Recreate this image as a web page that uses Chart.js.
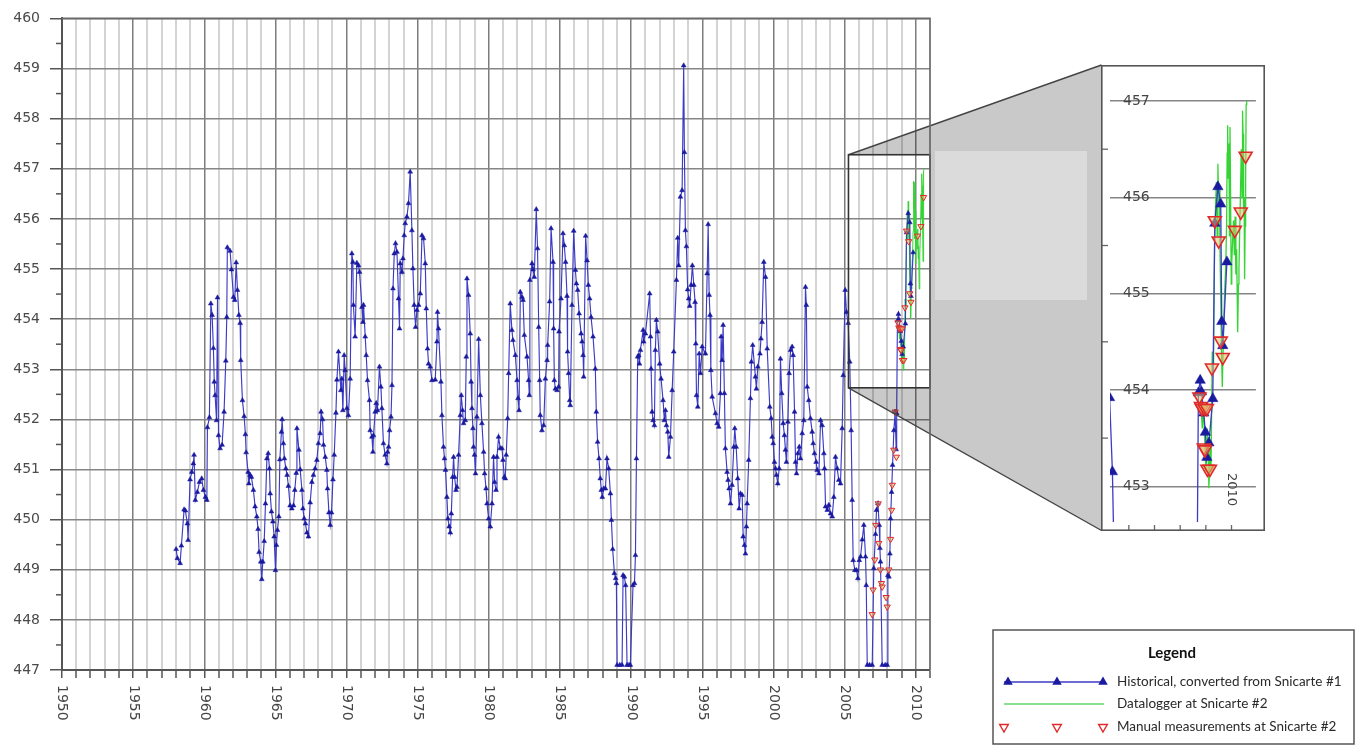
<!DOCTYPE html>
<html>
<head>
<meta charset="utf-8">
<script src="https://cdn.jsdelivr.net/npm/chart.js@4/dist/chart.umd.min.js"></script>
<style>
  html, body { margin: 0; padding: 0; background: #fff; }
  #wrap { position: relative; width: 1359px; height: 747px; overflow: hidden; }
  #main { position: absolute; left: 0; top: 0; }
  #inset { position: absolute; left: 1101px; top: 65px; }
</style>
</head>
<body>
<div id="wrap">
  <canvas id="main" width="1359" height="747"></canvas>
  <canvas id="inset" width="164" height="466"></canvas>
</div>
<script>
// water level readings, [decimal year, level]
const historical = [
[1958.02,449.41],[1958.11,449.23],[1958.30,449.13],[1958.39,449.48],[1958.58,450.20],[1958.67,450.18],[1958.81,449.92],[1958.86,449.59],
[1959.00,450.80],[1959.12,450.95],[1959.23,451.12],[1959.28,451.29],[1959.37,450.39],[1959.51,450.55],[1959.66,450.75],[1959.82,450.82],[1959.94,450.59],
[1960.08,450.45],[1960.18,450.39],[1960.22,451.84],[1960.36,452.04],[1960.46,454.31],[1960.55,454.08],[1960.64,453.42],[1960.70,452.75],[1960.76,452.48],[1960.86,451.98],[1960.93,454.43],[1961.00,451.68],
[1961.11,451.42],[1961.25,451.49],[1961.39,452.15],[1961.51,453.17],[1961.58,454.04],[1961.62,455.43],[1961.81,455.36],[1961.91,454.99],
[1962.05,454.44],[1962.14,454.38],[1962.24,455.13],[1962.33,454.58],[1962.43,454.08],[1962.52,453.92],[1962.56,453.18],[1962.68,452.38],[1962.80,452.06],[1962.89,451.70],[1962.94,451.34],
[1963.08,450.95],[1963.13,450.72],[1963.22,450.89],[1963.31,450.85],[1963.45,450.59],[1963.57,450.26],[1963.69,450.06],[1963.78,449.81],[1963.85,449.35],[1963.97,449.16],
[1964.04,448.81],[1964.11,449.16],[1964.21,449.57],[1964.30,450.32],[1964.40,451.22],[1964.49,451.32],[1964.58,451.02],[1964.63,450.52],[1964.72,450.16],[1964.82,449.96],[1964.91,449.66],
[1965.00,448.99],[1965.07,449.49],[1965.14,449.79],[1965.24,450.06],[1965.31,451.20],[1965.42,451.75],[1965.47,452.00],[1965.56,451.52],[1965.63,451.22],[1965.73,451.02],[1965.82,450.89],[1965.91,450.67],
[1966.03,450.28],[1966.15,450.22],[1966.27,450.28],[1966.36,450.59],[1966.46,450.93],[1966.51,451.82],[1966.65,451.39],[1966.74,451.00],[1966.86,450.59],[1966.93,450.22],
[1967.02,450.02],[1967.11,449.92],[1967.21,449.74],[1967.32,449.66],[1967.44,450.34],[1967.56,450.75],[1967.67,450.89],[1967.79,451.02],[1967.91,451.19],
[1968.02,451.52],[1968.14,451.72],[1968.21,452.15],[1968.31,452.00],[1968.38,451.49],[1968.50,451.25],[1968.61,450.99],[1968.66,450.62],[1968.76,450.14],[1968.85,449.89],[1968.94,450.14],
[1969.04,450.80],[1969.13,451.29],[1969.25,452.13],[1969.32,452.79],[1969.43,453.35],[1969.60,452.58],[1969.67,452.81],[1969.74,452.18],[1969.83,453.28],[1969.90,452.98],
[1970.02,452.22],[1970.13,452.08],[1970.25,452.81],[1970.37,455.31],[1970.44,455.14],[1970.48,454.28],[1970.60,453.65],[1970.72,455.12],[1970.84,455.07],[1970.91,454.94],
[1971.08,454.24],[1971.15,453.94],[1971.19,454.28],[1971.31,453.65],[1971.38,453.28],[1971.47,452.78],[1971.61,452.38],[1971.66,451.78],[1971.78,451.65],[1971.85,451.35],[1971.89,451.68],
[1972.01,452.15],[1972.08,452.32],[1972.17,452.18],[1972.31,453.05],[1972.41,452.65],[1972.48,452.22],[1972.59,451.52],[1972.71,451.29],[1972.83,451.12],[1972.88,451.35],[1972.95,451.45],
[1973.02,451.78],[1973.12,452.05],[1973.19,452.68],[1973.26,454.61],[1973.35,455.31],[1973.44,455.51],[1973.54,455.34],[1973.65,454.41],[1973.72,453.81],[1973.77,455.11],[1973.89,454.94],[1973.96,455.21],
[1974.05,455.67],[1974.12,455.91],[1974.24,456.04],[1974.35,456.31],[1974.47,456.94],[1974.59,455.77],[1974.66,455.01],[1974.75,454.28],[1974.85,453.84],[1974.94,454.18],
[1975.06,454.28],[1975.18,454.51],[1975.30,455.67],[1975.41,455.61],[1975.53,455.11],[1975.60,454.21],[1975.69,453.41],[1975.76,453.11],[1975.88,453.05],
[1976.00,452.78],[1976.23,452.79],[1976.35,453.55],[1976.39,454.14],[1976.46,453.81],[1976.63,452.75],[1976.70,452.08],[1976.81,451.45],[1976.88,451.22],[1976.95,450.99],
[1977.05,450.45],[1977.12,450.02],[1977.21,449.86],[1977.29,449.74],[1977.36,450.12],[1977.45,450.85],[1977.52,451.25],[1977.59,450.85],[1977.69,450.59],[1977.76,450.65],[1977.87,451.29],[1977.99,452.08],
[1978.06,452.48],[1978.15,452.18],[1978.22,451.92],[1978.34,451.98],[1978.41,453.25],[1978.46,454.81],[1978.57,454.48],[1978.69,453.71],[1978.75,452.75],[1978.81,452.22],[1978.88,451.82],[1978.92,451.45],[1978.99,451.29],
[1979.06,450.92],[1979.16,452.05],[1979.28,453.60],[1979.40,452.48],[1979.51,451.92],[1979.63,451.35],[1979.70,450.92],[1979.80,450.62],[1979.87,450.32],[1979.98,450.02],
[1980.10,449.86],[1980.22,450.32],[1980.33,451.25],[1980.40,450.75],[1980.50,450.59],[1980.57,451.25],[1980.68,451.65],[1980.80,451.42],[1980.92,451.42],[1980.99,451.19],
[1981.08,450.85],[1981.15,450.82],[1981.22,451.29],[1981.32,452.02],[1981.39,452.92],[1981.50,454.31],[1981.62,453.78],[1981.69,453.58],[1981.86,453.28],[1981.98,452.78],
[1982.05,452.42],[1982.12,452.18],[1982.21,454.54],[1982.33,454.44],[1982.40,454.38],[1982.49,453.68],[1982.68,453.25],[1982.79,452.78],[1982.84,452.48],[1982.88,454.78],
[1983.03,455.11],[1983.10,454.99],[1983.19,454.84],[1983.33,456.19],[1983.42,455.41],[1983.50,453.84],[1983.57,452.78],[1983.61,452.08],[1983.73,451.78],[1983.85,451.88],[1983.97,452.81],
[1984.09,453.18],[1984.13,453.48],[1984.27,454.35],[1984.37,455.81],[1984.51,455.14],[1984.55,453.81],[1984.60,452.78],[1984.67,452.61],[1984.79,452.58],[1984.90,452.65],[1984.93,453.75],
[1985.07,454.41],[1985.21,455.71],[1985.30,455.47],[1985.39,455.14],[1985.49,454.46],[1985.53,453.35],[1985.60,452.92],[1985.68,452.38],[1985.72,452.28],[1985.84,454.28],[1985.96,455.76],
[1986.08,454.98],[1986.15,454.71],[1986.24,454.58],[1986.34,454.11],[1986.48,453.71],[1986.55,453.55],[1986.62,453.28],[1986.66,452.85],[1986.80,455.66],[1986.90,455.17],[1986.99,454.68],
[1987.08,454.41],[1987.18,454.04],[1987.32,453.65],[1987.48,453.01],[1987.55,452.15],[1987.64,451.55],[1987.74,451.22],[1987.83,450.82],[1987.90,450.59],[1987.97,450.45],
[1988.07,450.62],[1988.19,450.62],[1988.30,451.22],[1988.42,451.02],[1988.54,450.52],[1988.61,449.99],[1988.70,449.41],[1988.82,448.93],[1988.91,448.83],[1988.96,448.73],
[1989.01,447.10],[1989.20,447.10],[1989.36,447.10],[1989.43,448.89],[1989.52,448.86],[1989.61,448.69],[1989.71,447.10],[1989.85,447.10],[1989.94,447.10],
[1990.13,448.69],[1990.23,448.73],[1990.30,449.29],[1990.37,451.22],[1990.46,453.25],[1990.53,453.28],[1990.58,453.11],[1990.65,453.38],[1990.84,453.78],[1990.88,453.55],
[1991.00,453.71],[1991.30,454.51],[1991.36,453.65],[1991.40,453.01],[1991.47,452.15],[1991.54,451.98],[1991.63,451.88],[1991.70,453.38],[1991.77,453.98],[1991.86,453.75],
[1992.00,453.11],[1992.10,452.81],[1992.24,452.38],[1992.33,451.98],[1992.41,452.18],[1992.48,451.88],[1992.57,451.75],[1992.64,451.25],[1992.76,451.65],[1992.88,452.58],[1992.99,453.35],
[1993.18,454.78],[1993.27,455.62],[1993.34,455.07],[1993.46,456.44],[1993.58,456.57],[1993.69,459.06],[1993.74,457.33],[1993.81,455.77],[1993.88,455.45],[1993.97,454.59],
[1994.04,454.41],[1994.11,454.26],[1994.21,454.68],[1994.30,455.07],[1994.40,454.68],[1994.49,454.34],[1994.54,453.51],[1994.59,452.48],[1994.68,452.25],[1994.78,453.31],[1994.87,452.92],[1994.99,453.45],
[1995.22,453.31],[1995.34,454.91],[1995.41,455.89],[1995.48,454.48],[1995.54,454.08],[1995.60,452.98],[1995.69,452.45],[1995.92,452.12],
[1996.04,451.92],[1996.15,451.85],[1996.27,452.52],[1996.32,453.65],[1996.39,453.18],[1996.46,453.88],[1996.55,452.52],[1996.62,451.42],[1996.74,450.95],[1996.81,450.79],[1996.88,450.62],[1996.98,450.32],
[1997.09,450.69],[1997.21,451.45],[1997.28,451.82],[1997.38,451.45],[1997.49,450.82],[1997.59,450.22],[1997.68,450.52],[1997.80,450.49],[1997.87,449.66],[1997.96,449.49],
[1998.03,449.32],[1998.10,449.86],[1998.15,450.32],[1998.26,451.19],[1998.38,452.42],[1998.45,453.15],[1998.54,453.48],[1998.73,452.85],[1998.80,452.61],[1998.90,453.05],
[1999.05,453.31],[1999.12,453.61],[1999.20,453.94],[1999.32,455.14],[1999.44,454.84],[1999.56,453.41],[1999.74,452.25],[1999.84,452.02],[1999.91,451.65],[1999.98,451.52],
[2000.07,451.15],[2000.14,451.02],[2000.21,450.89],[2000.30,450.72],[2000.40,451.02],[2000.49,453.21],[2000.58,452.52],[2000.68,451.92],[2000.77,451.68],[2000.84,451.39],[2000.91,451.15],
[2001.01,451.95],[2001.10,452.92],[2001.20,453.38],[2001.31,453.45],[2001.38,453.28],[2001.48,452.15],[2001.55,451.15],[2001.62,450.92],[2001.71,451.32],[2001.81,451.45],[2001.90,451.22],
[2002.02,451.72],[2002.13,451.98],[2002.25,454.64],[2002.31,454.28],[2002.37,452.65],[2002.48,452.38],[2002.60,452.02],[2002.72,451.75],[2002.79,451.52],[2002.88,451.32],
[2003.00,451.15],[2003.07,450.99],[2003.19,450.92],[2003.31,451.98],[2003.42,451.88],[2003.54,451.32],[2003.59,451.02],[2003.66,450.26],[2003.78,450.19],[2003.89,450.29],
[2004.01,450.12],[2004.13,450.06],[2004.24,450.45],[2004.36,451.25],[2004.48,451.02],[2004.59,450.79],[2004.71,450.72],[2004.83,451.82],[2004.90,452.88],
[2005.04,454.58],[2005.13,454.14],[2005.25,453.92],[2005.36,453.15],[2005.46,451.78],[2005.53,450.39],[2005.60,449.19],[2005.72,448.99],[2005.84,448.99],[2005.93,448.83],
[2006.03,449.19],[2006.12,449.26],[2006.24,449.60],[2006.35,449.89],[2006.47,449.26],[2006.52,448.69],[2006.59,447.10],[2006.75,447.10],[2006.94,447.10],
[2007.05,449.03],[2007.17,449.71],[2007.24,450.19],[2007.34,450.32],[2007.43,449.89],[2007.48,449.43],[2007.52,449.16],[2007.64,447.10],[2007.85,447.10],[2007.99,447.10],
[2008.04,448.89],[2008.11,448.86],[2008.18,449.32],[2008.23,450.02],[2008.30,450.55],[2008.37,451.09],[2008.46,451.78],[2008.55,452.15],[2008.62,451.40],[2008.66,452.12],
[2008.71,453.97],[2008.78,454.10],[2008.83,453.98],[2008.92,453.76],[2008.98,453.56],[2009.04,453.30],[2009.12,453.45],[2009.27,453.91],[2009.35,455.73],[2009.47,456.11],
[2009.58,455.93],[2009.62,454.71],[2009.66,454.46],[2009.82,455.33]
];

const datalogger = [
[2008.80,453.90],[2008.86,453.60],[2008.90,453.83],[2008.96,453.45],[2009.01,453.15],[2009.06,453.60],[2009.10,453.20],[2009.12,452.98],[2009.16,453.40],[2009.20,453.15],
[2009.25,454.40],[2009.30,454.26],[2009.34,455.50],[2009.37,455.85],[2009.41,456.16],[2009.44,455.60],[2009.47,456.35],[2009.50,455.90],[2009.53,456.10],[2009.55,455.46],
[2009.58,454.95],[2009.61,454.40],[2009.64,454.03],[2009.69,454.60],[2009.73,455.00],[2009.78,455.33],[2009.81,455.75],[2009.83,456.46],[2009.85,456.75],[2009.87,456.20],
[2009.90,456.56],[2009.92,455.60],[2009.94,456.73],[2009.96,456.16],[2009.99,455.10],[2010.01,455.33],[2010.05,455.60],[2010.08,455.76],[2010.11,455.40],[2010.14,455.80],
[2010.17,455.20],[2010.20,455.46],[2010.24,454.60],[2010.27,455.10],[2010.29,455.26],[2010.34,455.93],[2010.38,456.50],[2010.41,456.00],[2010.43,456.90],[2010.45,456.66],
[2010.47,455.80],[2010.49,456.00],[2010.51,455.15],[2010.53,455.70],[2010.55,456.16],[2010.57,456.96],[2010.59,457.00]
];

const manual = [
[2006.94,448.11],[2007.00,448.60],[2007.12,449.20],[2007.19,449.89],[2007.36,450.32],[2007.40,449.53],[2007.52,449.00],[2007.59,448.73],[2007.64,448.66],
[2007.92,448.45],[2007.99,448.26],[2008.11,449.00],[2008.23,449.61],[2008.30,450.19],[2008.35,450.69],[2008.45,451.39],[2008.55,452.15],[2008.64,451.25],
[2008.75,453.93],[2008.81,453.83],[2008.85,453.81],[2008.92,453.40],[2008.95,453.81],[2008.97,453.38],[2009.04,453.81],[2009.06,453.18],[2009.16,453.18],
[2009.24,454.23],[2009.35,455.76],[2009.50,455.55],[2009.58,454.51],[2009.66,454.34],[2010.13,455.66],[2010.36,455.85],[2010.55,456.43]
];

const yearLabels = [1950, 1955, 1960, 1965, 1970, 1975, 1980, 1985, 1990, 1995, 2000, 2005, 2010];
const levelRange = [447, 460];
const yearRange = [1950, 2011];
// zoom window shown in the inset
const zoomYears = [2005.27, 2010.95];
const zoomLevels = [452.63, 457.28];
const insetLevelLabels = [453, 454, 455, 456, 457];
const insetYearTicks = [2006, 2007, 2008, 2009, 2010];

const legendItems = [
  'Historical, converted from Snicarte #1',
  'Datalogger at Snicarte #2',
  'Manual measurements at Snicarte #2'
];

const toXY = arr => arr.map(p => ({ x: p[0], y: p[1] }));

const BLUE_LINE = '#3b3bc6';
const BLUE_PT = '#1a1aa0';
const GREEN = '#35d435';
const RED = '#e02a2a';
const RED_FILL = 'rgba(225,190,110,0.55)';

function datasets(big) {
  return [
    {
      label: legendItems[2], data: toXY(manual), showLine: false, order: 1,
      pointStyle: 'triangle', pointRotation: 180,
      pointRadius: big ? 7.5 : 3.6, pointBorderWidth: big ? 1.6 : 1,
      pointBorderColor: RED, pointBackgroundColor: RED_FILL
    },
    {
      label: legendItems[0], data: toXY(historical), showLine: true, order: 2,
      borderColor: BLUE_LINE, borderWidth: big ? 1.3 : 1.15,
      pointStyle: 'triangle', pointRadius: big ? 6 : 2.8, pointBorderWidth: 0.5,
      pointBorderColor: BLUE_PT, pointBackgroundColor: BLUE_PT
    },
    {
      label: legendItems[1], data: toXY(datalogger), showLine: true, order: 3,
      borderColor: GREEN, borderWidth: big ? 1.3 : 1, pointRadius: 0
    }
  ];
}

function tri(ctx, x, y, r, down) {
  ctx.beginPath();
  const s = down ? -1 : 1;
  ctx.moveTo(x, y - s * r);
  ctx.lineTo(x + r * 0.866, y + s * r * 0.5);
  ctx.lineTo(x - r * 0.866, y + s * r * 0.5);
  ctx.closePath();
}

const mainDecor = {
  id: 'mainDecor',
  afterDatasetsDraw(chart) {
    const ctx = chart.ctx, xs = chart.scales.x, ys = chart.scales.y, ca = chart.chartArea;
    const rx0 = xs.getPixelForValue(zoomYears[0]);
    const rx1 = ca.right;
    const ry0 = ys.getPixelForValue(zoomLevels[1]);
    const ry1 = ys.getPixelForValue(zoomLevels[0]);
    const ix = 1101.5, iy0 = 65, iy1 = 530.5;
    ctx.save();
    ctx.beginPath();
    ctx.moveTo(rx0, ry0); ctx.lineTo(ix, iy0); ctx.lineTo(ix, iy1); ctx.lineTo(rx0, ry1); ctx.closePath();
    ctx.rect(rx0, ry0, rx1 - rx0, ry1 - ry0);
    ctx.fillStyle = 'rgba(0,0,0,0.21)';
    ctx.fill('evenodd');
    ctx.fillStyle = 'rgba(255,255,255,0.33)';
    ctx.fillRect(935, 151, 152, 149);
    ctx.strokeStyle = '#444';
    ctx.lineWidth = 1.4;
    ctx.beginPath();
    ctx.moveTo(rx0, ry0); ctx.lineTo(ix, iy0);
    ctx.moveTo(rx0, ry1); ctx.lineTo(ix, iy1);
    ctx.stroke();
    ctx.strokeStyle = '#333';
    ctx.lineWidth = 1.6;
    ctx.strokeRect(rx0, ry0, rx1 - rx0, ry1 - ry0);
    ctx.restore();
  },
  afterDraw(chart) {
    const ctx = chart.ctx, xs = chart.scales.x, ys = chart.scales.y, ca = chart.chartArea;
    ctx.save();
    // top and right frame
    ctx.strokeStyle = '#6a6a6a';
    ctx.lineWidth = 1.6;
    ctx.beginPath();
    ctx.moveTo(ca.left, ca.top); ctx.lineTo(ca.right, ca.top); ctx.lineTo(ca.right, ca.bottom);
    ctx.stroke();
    // minor ticks on the level axis
    ctx.strokeStyle = '#555';
    ctx.lineWidth = 1.5;
    for (let v = levelRange[0] + 0.5; v < levelRange[1]; v += 1) {
      const y = ys.getPixelForValue(v);
      ctx.beginPath(); ctx.moveTo(ca.left - 6, y); ctx.lineTo(ca.left, y); ctx.stroke();
    }
    // rotated year labels
    ctx.fillStyle = '#454545';
    ctx.font = '14px "DejaVu Sans"';
    ctx.textAlign = 'left';
    ctx.textBaseline = 'middle';
    yearLabels.forEach(yr => {
      const x = xs.getPixelForValue(yr);
      ctx.save();
      ctx.translate(x, ca.bottom + 15);
      ctx.rotate(Math.PI / 2);
      ctx.fillText(String(yr), 0, 0);
      ctx.restore();
    });
    // legend box
    const lx = 993, ly = 630, lw = 361, lh = 114;
    ctx.fillStyle = '#fff';
    ctx.fillRect(lx, ly, lw, lh);
    ctx.strokeStyle = '#555';
    ctx.lineWidth = 1.5;
    ctx.strokeRect(lx, ly, lw, lh);
    ctx.fillStyle = '#111';
    ctx.font = 'bold 15px Lato';
    ctx.textAlign = 'center';
    ctx.fillText('Legend', 1172, 653);
    const rows = [682, 704, 727];
    const sx0 = 1004, sx1 = 1104, tx = 1117;
    // historical
    ctx.strokeStyle = BLUE_LINE; ctx.lineWidth = 1.3;
    ctx.beginPath(); ctx.moveTo(sx0, rows[0]); ctx.lineTo(sx1, rows[0]); ctx.stroke();
    ctx.fillStyle = BLUE_PT;
    [sx0 + 4, 1057, sx1 - 1].forEach(x => { tri(ctx, x, rows[0], 5.5, false); ctx.fill(); });
    // datalogger
    ctx.strokeStyle = '#66d466'; ctx.lineWidth = 1.5;
    ctx.beginPath(); ctx.moveTo(sx0, rows[1]); ctx.lineTo(sx1, rows[1]); ctx.stroke();
    // manual
    ctx.strokeStyle = RED; ctx.lineWidth = 1.4; ctx.fillStyle = '#fff';
    [sx0, 1057, sx1 - 1].forEach(x => { tri(ctx, x, rows[2], 5, true); ctx.fill(); ctx.stroke(); });
    ctx.fillStyle = '#2a2a2a';
    ctx.font = '13.5px Lato';
    ctx.textAlign = 'left';
    legendItems.forEach((t, i) => ctx.fillText(t, tx, rows[i]));
    ctx.restore();
  }
};

new Chart(document.getElementById('main'), {
  type: 'scatter',
  data: { datasets: datasets(false) },
  options: {
    responsive: false,
    animation: false,
    layout: { padding: { top: 18, right: 429, left: 0, bottom: 0 } },
    elements: { line: { tension: 0 } },
    plugins: { legend: { display: false }, tooltip: { enabled: false } },
    scales: {
      x: {
        type: 'linear', min: yearRange[0], max: yearRange[1],
        afterFit: s => { s.height = 77; },
        ticks: { stepSize: 1, autoSkip: false, display: false },
        grid: {
          color: c => c.tick.value % 5 === 0 ? '#7d7d7d' : '#d4d4d4',
          lineWidth: c => c.tick.value % 5 === 0 ? 1.5 : 2,
          tickLength: 8, tickColor: '#555', tickWidth: 1.5
        },
        border: { color: '#555', width: 2 }
      },
      y: {
        type: 'linear', min: levelRange[0], max: levelRange[1],
        afterFit: s => { s.width = 62; },
        ticks: {
          stepSize: 0.5, autoSkip: false, padding: 10, color: '#4a4a4a',
          font: { family: 'DejaVu Sans', size: 14 },
          callback: v => Number.isInteger(v) ? String(v) : ''
        },
        grid: {
          color: c => Number.isInteger(c.tick.value) ? '#858585' : 'rgba(0,0,0,0)',
          lineWidth: 1.5, tickLength: 12,
          tickColor: c => Number.isInteger(c.tick.value) ? '#555' : 'rgba(0,0,0,0)',
          tickWidth: 1.5
        },
        border: { color: '#555', width: 2 }
      }
    }
  },
  plugins: [mainDecor]
});

const insetDecor = {
  id: 'insetDecor',
  afterDraw(chart) {
    const ctx = chart.ctx, xs = chart.scales.x, ys = chart.scales.y;
    const W = chart.width, H = chart.height;
    ctx.save();
    ctx.fillStyle = '#454545';
    ctx.font = '14px "DejaVu Sans"';
    ctx.textAlign = 'left';
    ctx.textBaseline = 'middle';
    insetLevelLabels.forEach(v => ctx.fillText(String(v), 22, ys.getPixelForValue(v)));
    ctx.strokeStyle = '#666';
    ctx.lineWidth = 1.3;
    for (let v = 453.5; v < zoomLevels[1]; v += 1) {
      const y = ys.getPixelForValue(v);
      ctx.beginPath(); ctx.moveTo(0, y); ctx.lineTo(7, y); ctx.stroke();
    }
    insetYearTicks.forEach(yr => {
      const x = xs.getPixelForValue(yr);
      ctx.beginPath(); ctx.moveTo(x, H); ctx.lineTo(x, H - 6); ctx.stroke();
    });
    const x2010 = xs.getPixelForValue(2010);
    ctx.font = '13px "DejaVu Sans"';
    ctx.save();
    ctx.translate(x2010, H - 58);
    ctx.rotate(Math.PI / 2);
    ctx.fillText('2010', 0, 0);
    ctx.restore();
    ctx.strokeStyle = '#555';
    ctx.lineWidth = 1.6;
    ctx.strokeRect(0.8, 0.8, W - 1.6, H - 1.6);
    ctx.restore();
  }
};

new Chart(document.getElementById('inset'), {
  type: 'scatter',
  data: { datasets: datasets(true) },
  options: {
    responsive: false,
    animation: false,
    layout: { padding: 0 },
    elements: { line: { tension: 0 } },
    plugins: { legend: { display: false }, tooltip: { enabled: false } },
    scales: {
      x: { type: 'linear', min: zoomYears[0], max: zoomYears[1], display: false },
      y: {
        type: 'linear', min: zoomLevels[0], max: zoomLevels[1],
        afterFit: s => { s.width = 0; },
        ticks: { display: false, stepSize: 0.5 },
        grid: {
          color: c => Number.isInteger(c.tick.value) ? '#858585' : 'rgba(0,0,0,0)',
          lineWidth: 1.5, drawTicks: false
        },
        border: { display: false }
      }
    }
  },
  plugins: [insetDecor]
});
</script>
</body>
</html>
